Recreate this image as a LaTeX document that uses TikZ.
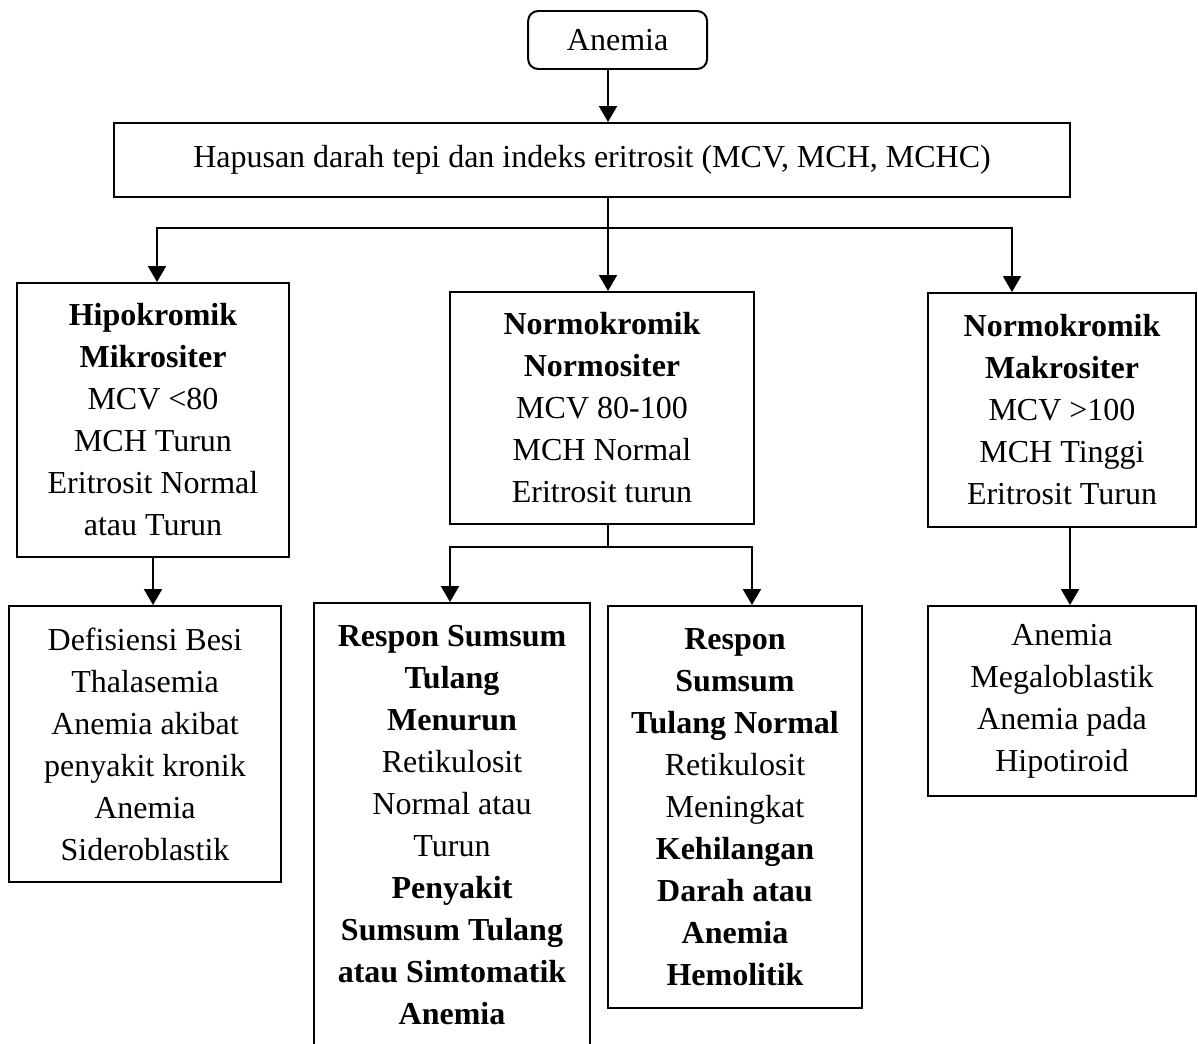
\documentclass[tikz,border=0pt]{standalone}
\usepackage{fontspec}
\setmainfont{Liberation Serif}
\usetikzlibrary{arrows.meta}
\tikzstyle{startstop} = [rectangle, rounded corners=0.25cm, draw, line width=1.4pt, minimum width=4.475cm, minimum height=1.45cm, text centered, font=\fontsize{22.76}{29.87}\selectfont]
\tikzstyle{process} = [rectangle, draw, line width=1.4pt, align=center, inner sep=0pt, font=\fontsize{22.76}{29.87}\selectfont]
\tikzstyle{connector} = [line width=1.4pt]
\tikzstyle{arrow} = [line width=1.4pt, -{Triangle[length=0.4cm, width=0.45cm]}]

\begin{document}
\begin{tikzpicture}
            \useasboundingbox (0,0) rectangle (29.95,-26.1);
            \node [startstop] at (15.44,-1.0) (anemia) {Anemia};
            \node [process, minimum width=23.9cm, minimum height=1.85cm] at (14.8,-4) (indeks) {Hapusan darah tepi dan indeks eritrosit (MCV, MCH, MCHC)};
            \node [process, minimum width=6.8cm, minimum height=6.85cm] at (3.825,-10.5) (hipo) {\textbf{Hipokromik}\\ \textbf{Mikrositer}\\ MCV <80\\ MCH Turun\\ Eritrosit Normal\\ atau Turun};
            \node [process, minimum width=7.6cm, minimum height=5.8cm] at (15.05,-10.2) (normo) {\textbf{Normokromik}\\ \textbf{Normositer}\\ MCV 80-100\\ MCH Normal\\ Eritrosit turun};
            \node [process, minimum width=6.7cm, minimum height=5.85cm] at (26.55,-10.25) (makro) {\textbf{Normokromik}\\ \textbf{Makrositer}\\ MCV >100\\ MCH Tinggi\\ Eritrosit Turun};
            \node [process, minimum width=6.8cm, minimum height=6.9cm] at (3.625,-18.6) (defisiensi) {Defisiensi Besi\\ Thalasemia\\ Anemia akibat\\ penyakit kronik\\ Anemia\\ Sideroblastik};
            \node [process, minimum width=6.9cm, minimum height=11.1cm] at (11.3,-20.625) (menurun) {\textbf{Respon Sumsum}\\ \textbf{Tulang}\\ \textbf{Menurun}\\ Retikulosit\\ Normal atau\\ Turun\\ \textbf{Penyakit}\\ \textbf{Sumsum Tulang}\\ \textbf{atau Simtomatik}\\ \textbf{Anemia}};
            \node [process, minimum width=6.35cm, minimum height=10.05cm] at (18.375,-20.175) (normal) {\textbf{Respon}\\ \textbf{Sumsum}\\ \textbf{Tulang Normal}\\ Retikulosit\\ Meningkat\\ \textbf{Kehilangan}\\ \textbf{Darah atau}\\ \textbf{Anemia}\\ \textbf{Hemolitik}};
            \node [process, minimum width=6.7cm, minimum height=4.75cm] at (26.55,-17.525) (megalo) {Anemia\\ Megaloblastik\\ Anemia pada\\ Hipotiroid};

            \coordinate (split1) at (15.2,-5.7);
            \coordinate (left1) at (3.925,-5.7);
            \coordinate (right1) at (25.3,-5.7);
            \coordinate (split2) at (15.2,-13.675);
            \coordinate (left2) at (11.25,-13.675);
            \coordinate (right2) at (18.8,-13.675);
            \coordinate (down3) at (26.75,-13.2);

            \draw [arrow] (anemia.south -| split1) -- (indeks.north -| split1);
            \draw [connector] (indeks.south -| split1) -- (split1);
            \draw [arrow] (split1) -- (normo.north -| split1);
            \draw [arrow] (split1) -- (left1) -- (hipo.north -| left1);
            \draw [arrow] (split1) -- (right1) -- (makro.north -| right1);
            \draw [arrow] (hipo.south) -- (defisiensi.north -| hipo.south);
            \draw [connector] (normo.south -| split2) -- (split2);
            \draw [arrow] (split2) -- (left2) -- (menurun.north -| left2);
            \draw [arrow] (split2) -- (right2) -- (normal.north -| right2);
            \draw [arrow] (makro.south -| down3) -- (megalo.north -| down3);
\end{tikzpicture}
\end{document}
